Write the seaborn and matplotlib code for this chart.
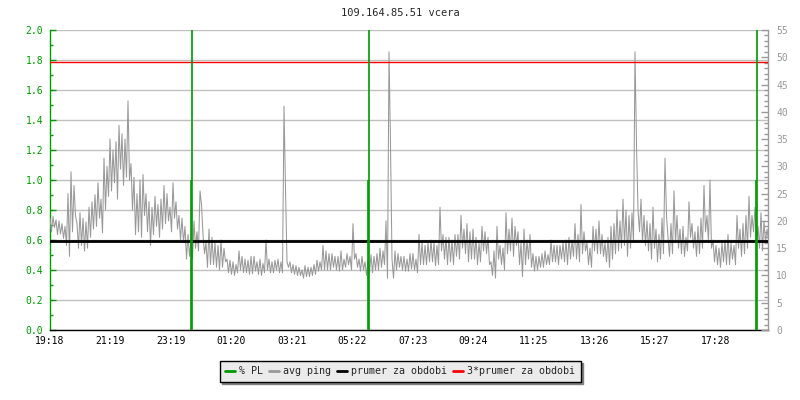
import numpy as np
import pandas as pd
import seaborn as sns
import matplotlib.pyplot as plt
from matplotlib.lines import Line2D
from matplotlib.ticker import MultipleLocator

# avg ping [ms] in 6-minute buckets from 19:18:
# the high sample at the start of each bucket ...
ping_hi = [
    20.5, 20.8, 20.2, 20.0, 19.5, 19.0, 25.0, 29.0, 26.5, 19.5,
    21.5, 20.5, 19.8, 22.5, 23.5, 24.8, 27.0, 24.0, 31.5, 30.0,
    35.0, 33.0, 34.5, 37.5, 36.0, 35.0, 42.0, 30.5, 28.0, 25.0,
    27.5, 28.5, 25.0, 23.5, 22.5, 24.5, 23.0, 24.0, 26.5, 25.0,
    22.5, 27.0, 23.5, 21.0, 20.5, 19.0, 17.5, 16.5, 20.0, 18.0,
    25.5, 17.5, 16.0, 18.5, 17.0, 16.0, 15.5, 16.5, 15.0, 13.0,
    12.8, 12.5, 12.0, 14.5, 13.5, 13.0, 12.8, 13.5, 13.5, 12.5,
    13.0, 12.2, 16.5, 13.0, 12.5, 12.8, 13.0, 12.5, 41.0, 12.5,
    12.5, 12.0, 11.8, 11.5, 11.0, 11.8, 11.5, 11.5, 12.0, 12.8,
    12.5, 15.5, 14.5, 14.0, 14.0, 13.5, 13.5, 14.5, 13.0,
    14.0, 13.5, 19.5, 14.0, 13.0, 13.5, 12.5, 12.8, 13.8, 13.5,
    14.0, 15.0, 14.5, 20.0, 51.0, 13.0, 14.5, 14.0, 13.5, 13.5,
    13.0, 14.0, 14.0, 13.0, 17.5, 16.0, 15.5, 16.0, 16.5, 16.0,
    15.5, 22.5, 17.5, 17.0, 17.0, 16.5, 17.5, 17.5, 21.0, 18.5,
    19.5, 18.0, 18.5, 17.0, 16.0, 19.0, 18.0, 17.0,
    12.5, 14.5, 19.0, 15.5, 15.0, 21.5, 18.5, 20.5, 19.0, 18.0,
    16.0, 18.5, 16.5, 17.5, 14.0, 13.5, 13.5, 14.0, 14.5, 13.8,
    16.5, 15.5, 15.5, 15.5, 16.0, 16.5, 17.0, 16.5, 19.5, 17.5,
    23.0, 18.0, 16.0, 15.0, 19.0, 18.5, 20.0, 17.5, 16.0, 17.0,
    19.0, 19.5, 22.0, 20.0, 24.0, 22.0, 21.0, 21.5, 51.0,
    22.0, 24.0, 21.0, 20.0, 19.5, 22.5, 18.5, 17.5, 20.5, 31.5,
    17.0, 19.5, 25.5, 21.0, 18.5, 19.0, 17.0, 23.5, 19.5, 18.0,
    19.0, 20.5, 26.5, 21.0, 27.5, 16.5, 15.5, 15.0, 16.0, 16.5,
    17.5, 16.0, 15.5, 21.0, 18.5, 19.5, 21.0, 24.5, 21.0, 22.5,
    19.0, 21.5, 20.0, 18.5,
]
# ... and the low sample 3 minutes later
ping_lo = [
    18.0, 18.8, 17.5, 17.6, 16.8, 15.5, 13.5, 18.0, 21.0, 15.0,
    15.5, 14.5, 15.0, 17.0, 18.5, 19.0, 20.5, 17.8, 22.0, 24.5,
    25.5, 27.0, 24.0, 29.5, 26.5, 28.0, 27.5, 22.0, 17.5, 18.0,
    17.0, 21.0, 18.0, 15.5, 17.5, 19.0, 17.0, 18.5, 19.5, 20.0,
    18.0, 20.5, 18.5, 16.5, 16.0, 13.0, 13.5, 13.0, 15.0, 14.5,
    23.0, 14.0, 11.5, 12.0, 12.0, 11.5, 11.0, 11.5, 12.5, 10.5,
    10.2, 10.0, 10.5, 11.0, 10.5, 10.5, 10.2, 10.3, 10.8, 10.2,
    10.0, 10.5, 11.0, 10.5, 10.5, 11.0, 10.5, 10.5, 26.0, 11.5,
    10.5, 10.2, 10.0, 10.0, 9.5, 9.8, 9.8, 10.0, 10.2, 10.8,
    11.0, 11.0, 11.0, 11.0, 11.5, 11.0, 10.8, 11.0, 11.5,
    12.0, 11.0, 13.0, 11.5, 10.8, 11.0, 10.0, 10.5, 10.5, 11.0,
    11.0, 11.5, 12.0, 9.5, 34.0, 9.5, 11.0, 11.5, 11.0, 10.8,
    10.8, 11.2, 11.0, 10.5, 12.0, 12.0, 12.0, 12.5, 12.5, 11.8,
    12.0, 14.5, 13.0, 12.0, 12.5, 12.0, 13.5, 13.0, 15.0, 14.0,
    12.5, 13.0, 13.0, 12.0, 12.5, 14.5, 14.0, 12.0,
    10.0, 9.5, 13.0, 12.0, 11.0, 14.0, 14.5, 13.5, 15.5, 12.0,
    9.8, 12.0, 13.0, 11.5, 10.8, 11.0, 11.5, 11.5, 12.0, 12.0,
    12.5, 12.5, 12.0, 13.0, 12.5, 12.0, 13.0, 13.5, 13.0, 12.5,
    14.0, 14.5, 12.0, 11.5, 14.5, 14.0, 14.0, 13.5, 12.5, 11.5,
    13.0, 14.0, 14.5, 15.0, 15.5, 13.5, 15.0, 16.0, 34.0,
    18.0, 16.0, 15.5, 14.5, 13.0, 15.0, 12.5, 13.0, 14.0, 21.0,
    13.5, 14.0, 16.0, 15.0, 14.0, 13.5, 14.5, 17.0, 15.0, 13.5,
    14.0, 15.0, 18.0, 16.0, 15.0, 12.5, 12.0, 11.5, 12.5, 12.0,
    12.0, 13.0, 12.0, 15.0, 13.5, 14.0, 15.0, 17.0, 18.0, 16.0,
    15.0, 14.5, 16.0, 16.5,
]
sample_step_min = 6

# packet loss impulses (minutes after 19:18, value on left axis)
pl_minutes = [282, 284, 636, 638, 1412, 1414]
pl_values = [1.0, 2.0, 1.0, 2.0, 1.0, 2.0]

mean_ping = 16.4  # prumer za obdobi [ms]

tick_labels = ["19:18", "21:19", "23:19", "01:20", "03:21", "05:22",
               "07:23", "09:24", "11:25", "13:26", "15:27", "17:28"]
tick_step_min = 121
span_min = 1436

t = np.arange(len(ping_hi)) * sample_step_min
df = pd.concat([
    pd.DataFrame({"minute": t, "ping": ping_hi}),
    pd.DataFrame({"minute": t + sample_step_min // 2, "ping": ping_lo}),
]).sort_values("minute")

sns.set_style("white")
plt.rcParams["font.family"] = ["DejaVu Sans Mono"]
plt.rcParams["font.size"] = 7

GREEN = "#009900"
GRAY = "#999999"
GRID = "#c0c0c0"

fig = plt.figure(figsize=(8, 4), dpi=100)
ax1 = fig.add_axes([50 / 800, 70 / 400, 718 / 800, 300 / 400])
ax2 = ax1.twinx()

# left axis: % PL
ax1.set_xlim(0, span_min)
ax1.set_ylim(0, 2.0)
ax1.yaxis.set_major_locator(MultipleLocator(0.2))
ax1.yaxis.set_minor_locator(MultipleLocator(0.1))
ax1.yaxis.set_major_formatter(plt.FormatStrFormatter("%.1f"))
ax1.grid(axis="y", color=GRID, linewidth=1.0)
ax1.set_axisbelow(True)
ax1.set_xticks(np.arange(len(tick_labels)) * tick_step_min)
ax1.set_xticklabels(tick_labels)
ax1.tick_params(axis="y", which="both", direction="in", colors=GREEN, pad=5)
ax1.tick_params(axis="y", which="major", length=4, width=1)
ax1.tick_params(axis="y", which="minor", length=2, width=1)
ax1.tick_params(axis="x", direction="in", length=4, width=1, colors="black", pad=4)
ax1.spines["left"].set_color(GREEN)
ax1.spines["bottom"].set_color("black")
ax1.spines["top"].set_visible(False)
ax1.spines["right"].set_visible(False)
for s in ("left", "bottom"):
    ax1.spines[s].set_linewidth(1.0)

# right axis: avg ping
sns.lineplot(data=df, x="minute", y="ping", ax=ax2, color=GRAY,
             linewidth=0.75, estimator=None, zorder=2)
ax2.axhline(mean_ping, color="black", linewidth=2.0, zorder=3)
ax2.axhline(3 * mean_ping, color="#ff0000", linewidth=1.0, zorder=3)
ax2.vlines(pl_minutes, 0, pl_values, colors=GREEN, linewidth=1.2,
           transform=ax1.transData, zorder=4)
ax2.set_xlim(0, span_min)
ax2.set_ylim(0, 55)
ax2.set_xlabel("")
ax2.set_ylabel("")
ax1.set_ylabel("")
ax2.yaxis.set_major_locator(MultipleLocator(5))
ax2.yaxis.set_minor_locator(MultipleLocator(1))
ax2.tick_params(axis="y", which="both", direction="in", colors=GRAY, pad=6)
ax2.tick_params(axis="y", which="major", length=5, width=1)
ax2.tick_params(axis="y", which="minor", length=3, width=1)
for s in ("left", "top", "bottom"):
    ax2.spines[s].set_visible(False)
ax2.spines["right"].set_color(GRAY)
ax2.spines["right"].set_linewidth(1.0)

fig.text(0.5, 1 - 13 / 400, "109.164.85.51 vcera", ha="center", va="center",
         fontsize=7.5)

handles = [
    Line2D([], [], color=GREEN, linewidth=2),
    Line2D([], [], color=GRAY, linewidth=2),
    Line2D([], [], color="black", linewidth=2),
    Line2D([], [], color="#ff0000", linewidth=2),
]
labels = ["% PL", "avg ping", "prumer za obdobi", "3*prumer za obdobi"]
leg = fig.legend(handles, labels, loc="center", bbox_to_anchor=(0.5, 1 - 371 / 400),
                 ncol=4, frameon=True, fancybox=False, framealpha=1,
                 facecolor="#ebebeb", edgecolor="black",
                 shadow={"color": "#808080", "alpha": 1},
                 handlelength=1.0, handletextpad=0.4, columnspacing=0.6,
                 borderpad=0.55, fontsize=7.2)
leg.get_frame().set_linewidth(1.0)

fig.savefig("out.png", dpi=100)
plt.close(fig)
